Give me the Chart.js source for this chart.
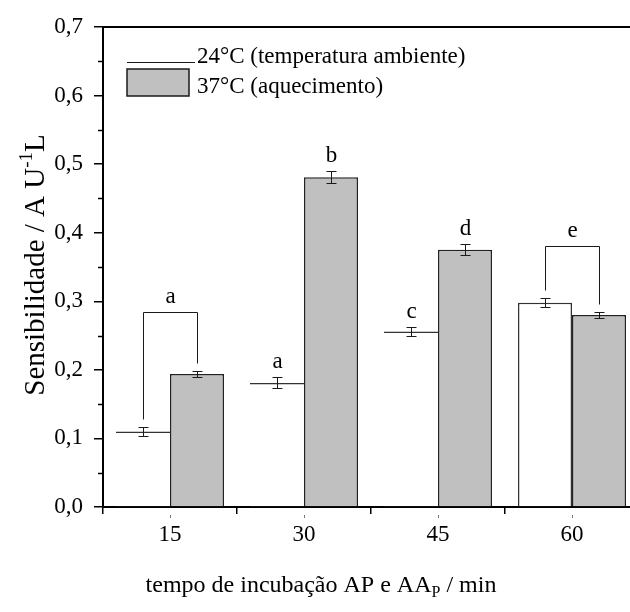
<!DOCTYPE html>
<html><head><meta charset="utf-8">
<script src="https://cdn.jsdelivr.net/npm/chart.js@4/dist/chart.umd.min.js"></script>
<style>html,body{margin:0;padding:0;overflow:hidden;background:#fff}#wrap{width:650px;height:612px}</style>
</head><body><div id="wrap"><canvas id="c" width="650" height="612" style="width:650px;height:612px"></canvas></div>
<script>
const categories = ['15', '30', '45', '60'];
const seriesLabels = ['24°C (temperatura ambiente)', '37°C (aquecimento)'];
const values24 = [0.110, 0.181, 0.256, 0.298];
const errors24 = [0.006, 0.008, 0.007, 0.007];
const values37 = [0.194, 0.481, 0.375, 0.280];
const errors37 = [0.005, 0.009, 0.008, 0.004];
const letters24 = ['', 'a', 'c', ''];
const letters37 = ['', 'b', 'd', ''];
const bracketLetters = ['a', '', '', 'e'];
const bracketLevels = [0.284, null, null, 0.380];
const yMin = 0, yMax = 0.7, yStep = 0.1;
const xTitleMain = 'tempo de incubação AP e AA', xTitleSub = 'P', xTitleEnd = ' / min';
const yTitleMain = 'Sensibilidade / A U', yTitleSup = '-1', yTitleEnd = 'L';

const FONT = "'Liberation Serif', 'Times New Roman', serif";
const INK = '#1a1a1a';

const extras = {
  id: 'extras',
  afterDatasetsDraw(chart) {
    const ctx = chart.ctx, ys = chart.scales.y;
    const vals = [values24, values37], errs = [errors24, errors37], lets = [letters24, letters37];
    const tops = [[], []];
    ctx.save();
    ctx.strokeStyle = INK; ctx.lineWidth = 1; ctx.fillStyle = '#000';
    ctx.font = '23px ' + FONT; ctx.textAlign = 'center'; ctx.textBaseline = 'alphabetic';
    [0, 1].forEach(di => {
      chart.getDatasetMeta(di).data.forEach((bar, i) => {
        const cx = Math.round(bar.x) + 0.5;
        const yt = Math.round(ys.getPixelForValue(vals[di][i] + errs[di][i])) + 0.5;
        const yb = Math.round(ys.getPixelForValue(vals[di][i] - errs[di][i])) + 0.5;
        tops[di][i] = { x: cx, y: yt };
        ctx.beginPath();
        ctx.moveTo(cx, yt); ctx.lineTo(cx, yb);
        ctx.moveTo(cx - 5, yt); ctx.lineTo(cx + 5, yt);
        ctx.moveTo(cx - 5, yb); ctx.lineTo(cx + 5, yb);
        ctx.stroke();
        if (lets[di][i]) ctx.fillText(lets[di][i], cx, yt - 10);
      });
    });
    bracketLetters.forEach((L, i) => {
      if (!L) return;
      const a = tops[0][i], b = tops[1][i];
      const yl = Math.round(ys.getPixelForValue(bracketLevels[i])) + 0.5;
      ctx.beginPath();
      ctx.moveTo(a.x, a.y - 8); ctx.lineTo(a.x, yl); ctx.lineTo(b.x, yl); ctx.lineTo(b.x, b.y - 8);
      ctx.stroke();
      ctx.fillText(L, (a.x + b.x) / 2, yl - 10);
    });
    ctx.restore();
  },
  afterDraw(chart) {
    const ctx = chart.ctx, ca = chart.chartArea, ys = chart.scales.y, xs = chart.scales.x;
    ctx.save();
    ctx.strokeStyle = '#000'; ctx.lineWidth = 2;
    ctx.beginPath(); ctx.moveTo(ca.left - 1, ca.top); ctx.lineTo(chart.width, ca.top); ctx.stroke();
    ctx.lineWidth = 1.5;
    for (let v = yMin + yStep / 2; v < yMax; v += yStep) {
      const py = Math.round(ys.getPixelForValue(v)) + 0.5;
      ctx.beginPath(); ctx.moveTo(ca.left - 5, py); ctx.lineTo(ca.left, py); ctx.stroke();
    }
    ctx.lineWidth = 1; ctx.strokeStyle = '#777';
    categories.forEach((c, i) => {
      const px = Math.round(xs.getPixelForValue(i)) + 0.5;
      ctx.beginPath(); ctx.moveTo(px, ca.bottom + 8); ctx.lineTo(px, ca.bottom + 11); ctx.stroke();
    });
    const lx = ca.left + 24, ly = ca.top + 35;
    ctx.strokeStyle = INK; ctx.lineWidth = 1;
    ctx.beginPath(); ctx.moveTo(lx, ly + 0.5); ctx.lineTo(lx + 68, ly + 0.5); ctx.stroke();
    ctx.fillStyle = '#c0c0c0'; ctx.fillRect(lx, ly + 7, 62, 27);
    ctx.lineWidth = 1.5; ctx.strokeRect(lx, ly + 7, 62, 27);
    ctx.fillStyle = '#000'; ctx.font = '23px ' + FONT; ctx.textAlign = 'left'; ctx.textBaseline = 'alphabetic';
    ctx.fillText(seriesLabels[0], lx + 70, ly + 1);
    ctx.fillText(seriesLabels[1], lx + 70, ly + 31);
    const fMain = '24px ' + FONT, fSub = '16px ' + FONT;
    ctx.font = fMain; const w1 = ctx.measureText(xTitleMain).width, w3 = ctx.measureText(xTitleEnd).width;
    ctx.font = fSub; const w2 = ctx.measureText(xTitleSub).width;
    let sx = 321 - (w1 + w2 + w3) / 2; const by = 592;
    ctx.font = fMain; ctx.fillText(xTitleMain, sx, by); sx += w1;
    ctx.font = fSub; ctx.fillText(xTitleSub, sx, by + 5); sx += w2;
    ctx.font = fMain; ctx.fillText(xTitleEnd, sx, by);
    ctx.translate(44, 265); ctx.rotate(-Math.PI / 2);
    const gMain = '29px ' + FONT, gSup = '19px ' + FONT;
    ctx.font = gMain; const v1 = ctx.measureText(yTitleMain).width, v3 = ctx.measureText(yTitleEnd).width;
    ctx.font = gSup; const v2 = ctx.measureText(yTitleSup).width;
    let tx = -(v1 + v2 + v3) / 2;
    ctx.font = gMain; ctx.fillText(yTitleMain, tx, 0); tx += v1;
    ctx.font = gSup; ctx.fillText(yTitleSup, tx, -12); tx += v2;
    ctx.font = gMain; ctx.fillText(yTitleEnd, tx, 0);
    ctx.restore();
  }
};

new Chart(document.getElementById('c'), {
  type: 'bar',
  data: {
    labels: categories,
    datasets: [
      { label: seriesLabels[0], data: values24, backgroundColor: '#ffffff', borderColor: '#333333',
        borderWidth: c => c.dataIndex === 3 ? { top: 1.5, left: 1.5, right: 1.5, bottom: 0 } : { top: 1.5, left: 0, right: 0, bottom: 0 },
        borderSkipped: 'bottom', barPercentage: 1, categoryPercentage: 0.806 },
      { label: seriesLabels[1], data: values37, backgroundColor: '#c0c0c0', borderColor: '#222222',
        borderWidth: 1.5, borderSkipped: 'bottom', barPercentage: 1, categoryPercentage: 0.806 }
    ]
  },
  options: {
    responsive: false, animation: false, devicePixelRatio: 1,
    layout: { padding: { top: 27, right: 11, left: 0, bottom: 0 } },
    plugins: { legend: { display: false }, tooltip: { enabled: false }, title: { display: false } },
    scales: {
      x: {
        type: 'category', offset: true,
        grid: { offset: true, drawOnChartArea: false, tickLength: 7, color: '#000', lineWidth: 1.5 },
        border: { display: true, color: '#000', width: 2 },
        ticks: { font: { family: FONT, size: 23 }, color: '#000', padding: 7, maxRotation: 0 },
        afterFit: s => { s.height = 105; }
      },
      y: {
        min: yMin, max: yMax,
        grid: { drawOnChartArea: false, tickLength: 9, color: '#000', lineWidth: 1.5 },
        border: { display: true, color: '#000', width: 2 },
        ticks: { stepSize: yStep, font: { family: FONT, size: 23 }, color: '#000', padding: 11,
          callback: v => v.toFixed(1).replace('.', ',') },
        afterFit: s => { s.width = 103; }
      }
    }
  },
  plugins: [extras]
});
</script>
</body></html>
